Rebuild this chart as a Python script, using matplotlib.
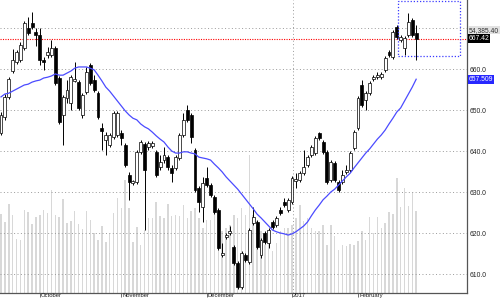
import numpy as np
import matplotlib
matplotlib.use("Agg")
import matplotlib.pyplot as plt
import matplotlib.transforms as mtransforms
from matplotlib.patches import Rectangle

# daily candles, Sept 2016 -> Feb 2017
opens = [644.4, 648.3, 653.2, 659.5, 661.7, 662.2, 665.1, 670.0, 671.2, 669.0,
         668.3, 662.2, 663.4, 663.4, 665.1, 657.8, 648.8, 652.9, 651.7, 657.1,
         656.8, 648.8, 654.4, 661.0, 657.3, 654.1, 645.6, 642.7, 641.5, 643.4,
         643.9, 644.4, 641.5, 634.2, 632.2, 632.4, 639.8, 641.7, 641.0, 641.2,
         639.8, 636.1, 637.8, 638.5, 635.9, 635.9, 638.3, 643.9, 650.0, 648.8,
         640.2, 631.0, 626.3, 633.4, 631.7, 628.8, 625.6, 614.6, 619.0, 620.0,
         616.6, 612.7, 606.8, 614.6, 612.9, 622.4, 622.7, 614.6, 620.0, 617.6,
         622.7, 622.0, 625.6, 627.6, 625.6, 627.6, 632.7, 632.9, 634.6, 636.6,
         639.0, 639.5, 644.4, 642.2, 639.8, 632.9, 637.1, 632.4, 632.4, 634.9,
         635.4, 640.7, 645.6, 656.1, 652.4, 654.1, 657.6, 658.0, 658.0, 659.8,
         664.1, 662.9, 670.2, 667.1, 665.1, 668.3, 671.9, 668.8]
closes = [648.8, 653.2, 657.6, 662.2, 664.1, 665.9, 671.2, 668.8, 670.2, 668.3,
          662.2, 661.7, 664.1, 665.1, 656.6, 647.1, 653.2, 654.9, 658.0, 657.6,
          650.5, 653.7, 659.3, 656.6, 654.9, 648.3, 644.9, 643.9, 643.9, 649.3,
          649.3, 643.2, 636.6, 632.4, 632.7, 639.8, 642.2, 635.4, 642.0, 642.0,
          634.2, 637.3, 639.0, 636.1, 634.6, 638.5, 643.9, 647.6, 647.6, 643.4,
          630.5, 627.6, 632.2, 631.7, 629.3, 625.1, 616.3, 615.1, 619.5, 620.5,
          612.7, 606.8, 615.1, 613.4, 620.7, 623.9, 616.6, 618.3, 617.8, 620.7,
          621.5, 623.7, 624.9, 626.8, 628.1, 633.4, 633.2, 634.6, 636.1, 638.5,
          641.0, 643.2, 643.2, 639.8, 632.4, 637.3, 632.9, 630.5, 634.2, 635.4,
          639.5, 644.6, 652.9, 651.2, 654.1, 656.6, 658.0, 658.5, 658.8, 662.7,
          663.4, 669.0, 667.8, 667.8, 667.6, 671.5, 668.3, 667.42]
highs = [649.5, 653.9, 658.0, 664.9, 664.6, 666.6, 671.7, 672.7, 673.9, 670.0,
         670.0, 662.9, 665.4, 667.1, 665.6, 658.3, 653.7, 657.3, 658.5, 661.7,
         657.3, 654.1, 660.5, 661.5, 658.5, 654.6, 646.8, 644.6, 644.4, 649.8,
         649.8, 645.1, 642.0, 634.9, 632.9, 640.2, 642.7, 642.2, 642.4, 642.4,
         640.2, 639.0, 641.0, 639.0, 636.6, 639.0, 644.4, 649.3, 651.2, 649.3,
         640.7, 631.5, 633.7, 636.1, 632.2, 629.3, 626.1, 617.6, 620.0, 621.7,
         617.1, 613.2, 615.6, 615.1, 621.2, 626.3, 623.2, 618.8, 620.5, 621.2,
         623.2, 624.2, 626.3, 628.5, 628.5, 633.9, 634.6, 635.1, 640.2, 639.0,
         641.5, 643.7, 644.6, 642.7, 640.2, 637.8, 637.6, 632.9, 635.4, 636.6,
         640.0, 645.1, 653.4, 657.3, 654.6, 657.1, 658.5, 659.3, 659.3, 663.2,
         664.6, 669.5, 670.7, 668.3, 668.1, 673.7, 672.4, 670.7]
lows = [643.9, 647.6, 652.7, 659.0, 661.2, 661.7, 664.6, 668.3, 669.8, 665.6,
        661.0, 659.8, 662.7, 662.9, 656.1, 646.6, 641.5, 651.7, 650.0, 656.8,
        650.0, 648.0, 653.9, 656.1, 654.4, 647.8, 640.2, 639.0, 641.0, 642.9,
        643.4, 641.5, 636.1, 628.1, 631.7, 632.0, 639.3, 620.7, 640.2, 640.7,
        633.7, 635.4, 637.1, 635.4, 632.4, 635.4, 637.8, 643.4, 647.1, 642.0,
        630.0, 625.1, 622.7, 631.2, 628.8, 624.6, 615.9, 614.1, 618.5, 619.5,
        612.2, 606.3, 606.3, 612.9, 612.4, 622.0, 616.1, 613.9, 617.3, 616.3,
        621.0, 621.5, 624.4, 626.3, 625.1, 627.1, 631.0, 632.4, 634.2, 636.1,
        638.5, 639.0, 642.7, 639.3, 632.0, 632.4, 632.4, 630.0, 632.0, 634.4,
        634.9, 640.2, 645.1, 650.7, 650.0, 653.7, 657.1, 657.6, 657.6, 659.3,
        662.9, 662.4, 667.3, 666.6, 663.4, 667.8, 667.8, 662.2]
ma20 = [653.2, 653.9, 654.1, 654.6, 655.1, 655.6, 656.1, 656.3, 656.8, 657.1,
        657.3, 657.8, 658.0, 658.3, 658.8, 658.5, 658.5, 659.0, 659.5, 660.2,
        660.5, 660.5, 660.5, 660.2, 659.8, 658.5, 657.1, 655.6, 654.6, 653.4,
        652.2, 651.0, 649.8, 648.8, 648.0, 647.6, 646.6, 645.9, 645.4, 644.6,
        643.7, 642.9, 642.2, 641.0, 640.0, 639.5, 639.5, 639.8, 639.8, 639.5,
        639.3, 638.5, 638.3, 638.1, 637.8, 636.8, 635.9, 634.9, 633.7, 632.7,
        631.7, 630.7, 629.5, 628.3, 627.1, 625.9, 624.6, 623.7, 622.7, 621.7,
        620.7, 620.3, 620.0, 619.8, 619.5, 619.8, 620.3, 621.0, 621.7, 622.7,
        624.2, 625.6, 626.8, 628.1, 629.0, 630.0, 630.7, 631.7, 632.7, 633.7,
        634.6, 635.9, 637.1, 638.3, 639.5, 640.5, 641.7, 642.9, 643.9, 645.1,
        646.6, 648.0, 649.5, 650.5, 652.2, 653.9, 655.6, 657.509]
volumes = [79, 71, 89, 78, 54, 53, 83, 81, 69, 76,
           78, 83, 80, 103, 78, 76, 94, 70, 72, 82,
           69, 64, 82, 73, 60, 53, 67, 51, 60, 80,
           95, 85, 113, 85, 51, 66, 48, 63, 75, 75,
           91, 77, 75, 89, 77, 78, 77, 88, 75, 82,
           85, 75, 65, 73, 73, 85, 62, 62, 65, 68,
           78, 75, 85, 78, 138, 78, 72, 62, 48, 62,
           42, 50, 62, 65, 65, 68, 75, 88, 72, 75,
           65, 62, 62, 68, 48, 68, 57, 43, 48, 47,
           49, 48, 52, 62, 53, 76, 60, 76, 65, 70,
           81, 79, 115, 86, 105, 87, 101, 82]

month_names = ["October", "November", "December", "2017", "February"]
month_starts = [10, 31, 53, 75, 92]
year_break = 75.3
last_price = 667.42
index_label = "54,385.40"
box_x = (102.3, 118.3)
box_y = (663.2, 676.6)
yticks = [610, 620, 630, 640, 650, 660, 670]

plt.rcParams["font.family"] = ["Liberation Sans", "DejaVu Sans"]

opens = np.array(opens)
closes = np.array(closes)
x = np.arange(len(closes))

fig = plt.figure(figsize=(5.01, 3.0), dpi=100)
pos = [0, 7 / 300, 467 / 501, 293 / 300]
axv = fig.add_axes(pos)
ax = fig.add_axes(pos)
ax.patch.set_visible(False)

xlim = (-0.26, 120.1)

# volume behind the prices
axv.bar(x, volumes, width=0.38, color="#d8d8d8", linewidth=0)
axv.set_xlim(xlim)
axv.set_ylim(0, 293)
axv.axis("off")

# grid
for t in yticks:
    ax.axhline(t, color="#9a9a9a", lw=0.7, linestyle=(0, (1, 2.5)), zorder=1)
ax.axvline(year_break, color="#9a9a9a", lw=0.7, linestyle=(0, (1, 2.5)), zorder=1)

ax.axhline(last_price, color="red", lw=0.8, linestyle=(0, (1, 1.2)), zorder=2)

# candles
up = closes >= opens
ax.vlines(x, lows, highs, color="black", lw=0.7, zorder=3)
bottoms = np.minimum(opens, closes)
heights = np.maximum(np.abs(closes - opens), 0.3)
ax.bar(x, heights, bottom=bottoms, width=0.75,
       color=np.where(up, "white", "black"), edgecolor="black",
       linewidth=0.5, zorder=4)

ax.plot(x, ma20, color="#4b4bff", lw=0.9, zorder=5)

ax.add_patch(Rectangle((box_x[0], box_y[0]), box_x[1] - box_x[0], box_y[1] - box_y[0],
                       fill=False, edgecolor="#3a3aff", lw=0.9,
                       linestyle=(0, (1, 1.5)), zorder=6))

ax.set_xlim(xlim)
ax.set_ylim(605.37, 676.83)

for s in ["left", "top"]:
    ax.spines[s].set_visible(False)
for s in ["right", "bottom"]:
    ax.spines[s].set_color("#555555")
    ax.spines[s].set_linewidth(0.9)

ax.yaxis.tick_right()
ax.set_yticks(yticks)
ax.set_yticklabels([f"{t:.1f}" for t in yticks[:-1]] + [""])
ax.tick_params(axis="y", length=0, pad=2, labelsize=4.9, labelcolor="#222222")

ax.set_xticks(month_starts)
ax.set_xticklabels([])
ax.tick_params(axis="x", length=3, width=0.6, color="#555555")

trans = mtransforms.blended_transform_factory(ax.transData, ax.transAxes)
for m, name in zip(month_starts, month_names):
    ax.text(m + 0.3, -0.001, name, transform=trans, fontsize=4.2,
            va="top", ha="left", color="#222222", clip_on=False)

rtrans = mtransforms.blended_transform_factory(ax.transAxes, ax.transData)
ax.text(1.004, 669.5, index_label, transform=rtrans, fontsize=4.9, va="center",
        ha="left", color="#333333",
        bbox=dict(boxstyle="square,pad=0.12", fc="#e2e2e2", ec="none"))
ax.text(1.004, last_price, f"{last_price:.2f}", transform=rtrans, fontsize=4.9,
        va="center", ha="left", color="white",
        bbox=dict(boxstyle="square,pad=0.12", fc="black", ec="none"))
ax.text(1.004, ma20[-1], f"{ma20[-1]:.3f}", transform=rtrans, fontsize=4.9,
        va="center", ha="left", color="white",
        bbox=dict(boxstyle="square,pad=0.12", fc="#2727ff", ec="none"))

fig.savefig("out.png", dpi=100)
